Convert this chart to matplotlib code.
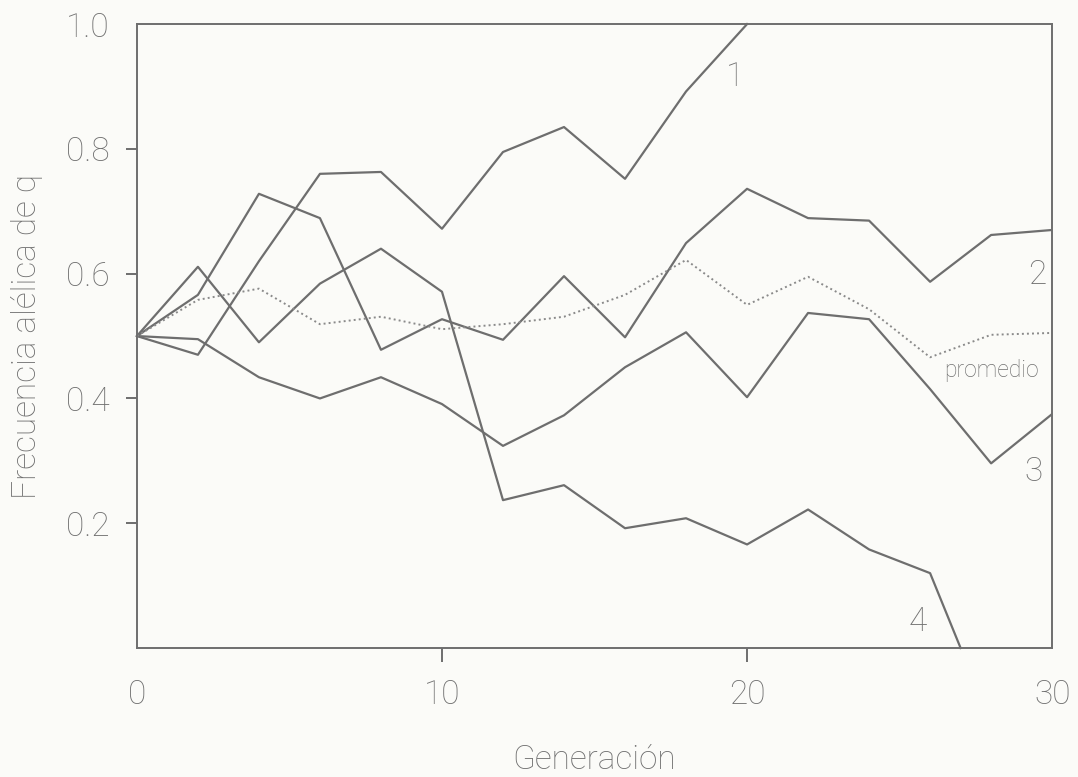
import numpy as np
import matplotlib.pyplot as plt

# generations sampled every 2
gen = [0, 2, 4, 6, 8, 10, 12, 14, 16, 18, 20, 22, 24, 26, 28, 30]

# population 1 reaches fixation (q = 1) at gen 20
gen1 = [0, 2, 4, 6, 8, 10, 12, 14, 16, 18, 20]
pop1 = [0.50, 0.47, 0.62, 0.76, 0.763, 0.672, 0.795, 0.835, 0.752, 0.892, 1.0]

pop2 = [0.50, 0.566, 0.728, 0.689, 0.478, 0.527, 0.494, 0.596, 0.498, 0.649,
        0.736, 0.689, 0.685, 0.587, 0.662, 0.67]
pop3 = [0.50, 0.495, 0.434, 0.40, 0.434, 0.391, 0.324, 0.373, 0.45, 0.506,
        0.402, 0.537, 0.527, 0.415, 0.296, 0.375]

# population 4 is lost (q = 0) near gen 27
gen4 = [0, 2, 4, 6, 8, 10, 12, 14, 16, 18, 20, 22, 24, 26, 27]
pop4 = [0.50, 0.611, 0.49, 0.584, 0.64, 0.571, 0.237, 0.261, 0.192, 0.208,
        0.166, 0.222, 0.158, 0.12, 0.0]

promedio = [0.50, 0.558, 0.576, 0.519, 0.531, 0.511, 0.519, 0.531, 0.566,
            0.622, 0.55, 0.595, 0.543, 0.466, 0.502, 0.505]

xticks = [0, 10, 20, 30]
yticks = [0.2, 0.4, 0.6, 0.8, 1.0]

plt.rcParams['font.family'] = ['Roboto', 'DejaVu Sans']
grey = '#6e6e6e'
txt = '#707070'
fw = 'light'

fig = plt.figure(figsize=(10.78, 7.77), dpi=100, facecolor='#fbfbf8')
ax = fig.add_axes([0.127, 0.166, 0.849, 0.803])
ax.set_facecolor('#fbfbf8')

lw = 1.6
ax.plot(gen1, pop1, color=grey, lw=lw, clip_on=False)
ax.plot(gen, pop2, color=grey, lw=lw)
ax.plot(gen, pop3, color=grey, lw=lw)
ax.plot(gen4, pop4, color=grey, lw=lw, clip_on=False)
ax.plot(gen, promedio, color='#8a8a8a', lw=1.4, ls=(0, (1, 1.6)))

ax.set_xlim(0, 30)
ax.set_ylim(0, 1.0)
ax.set_xticks(xticks)
ax.set_yticks(yticks)
ax.set_yticklabels(['0.2', '0.4', '0.6', '0.8', '1.0'])

for s in ax.spines.values():
    s.set_color(grey)
    s.set_linewidth(1.4)

ax.tick_params(axis='y', direction='out', length=8, width=1.4, color=grey,
               pad=12, labelsize=24, labelcolor=txt)
ax.tick_params(axis='x', direction='out', length=10, width=1.4, color=grey,
               pad=12, labelsize=24, labelcolor=txt)
# no tick marks at the box corners
xt = ax.xaxis.get_major_ticks()
xt[0].tick1line.set_visible(False)
xt[-1].tick1line.set_visible(False)
ax.yaxis.get_major_ticks()[-1].tick1line.set_visible(False)
for t in ax.get_xticklabels() + ax.get_yticklabels():
    t.set_fontweight(fw)

ax.set_xlabel('Generación', fontsize=24, color=txt, fontweight=fw, labelpad=24)
ax.set_ylabel('Frecuencia alélica de q', fontsize=24, color=txt,
              fontweight=fw, labelpad=16)

# curve labels
lab = dict(color=txt, fontweight=fw, ha='center', va='center')
ax.text(19.6, 0.915, '1', fontsize=24, **lab)
ax.text(29.5, 0.598, '2', fontsize=24, **lab)
ax.text(29.4, 0.282, '3', fontsize=24, **lab)
ax.text(25.6, 0.041, '4', fontsize=24, **lab)
ax.text(28.0, 0.445, 'promedio', fontsize=16.5, **lab)

fig.savefig('out.png', dpi=100, facecolor=fig.get_facecolor())
